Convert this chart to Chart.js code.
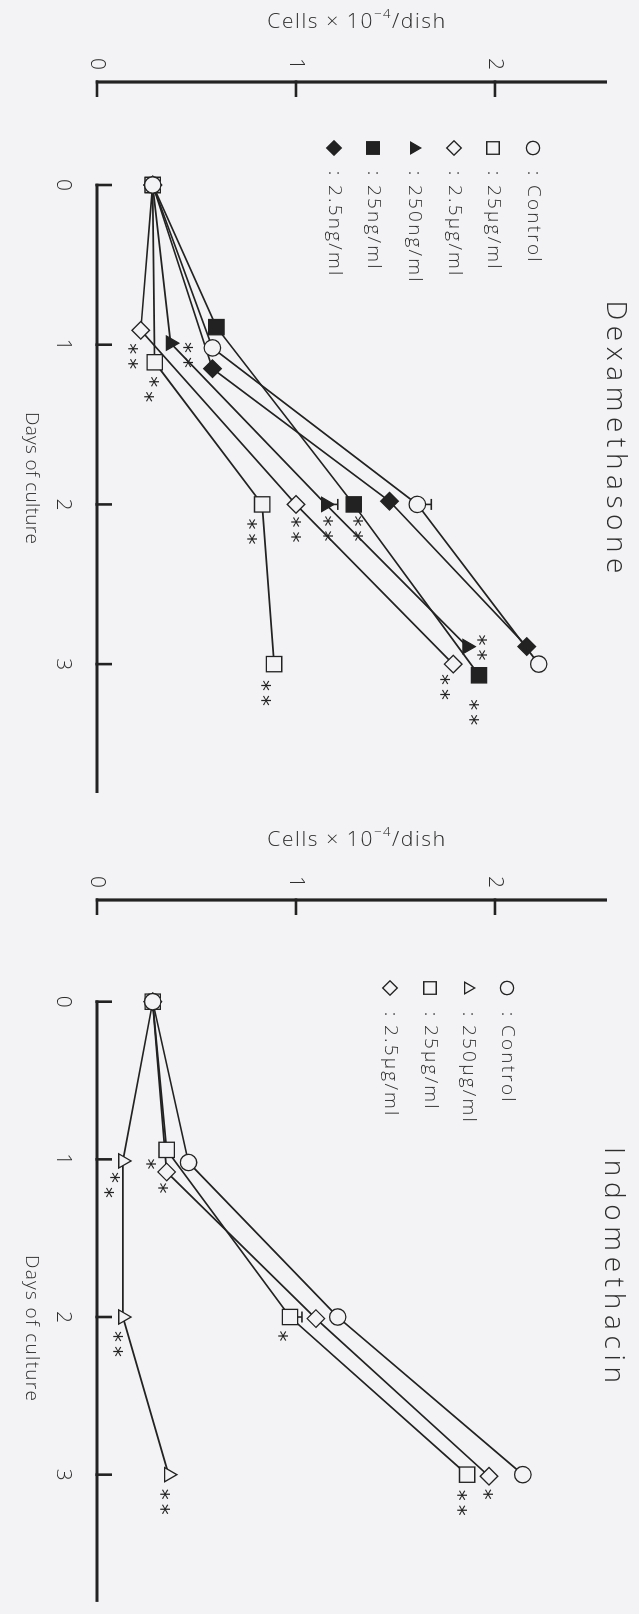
<!DOCTYPE html>
<html>
<head>
<meta charset="utf-8">
<script src="https://cdn.jsdelivr.net/npm/chart.js@4.4.1/dist/chart.umd.min.js"></script>
<style>
html, body { margin: 0; padding: 0; background: #f3f2f4; overflow: hidden; width: 639px; height: 1614px; }
#fig { position: absolute; left: 0; top: 0; width: 1614px; height: 639px; transform-origin: 0 0; transform: translate(639px, 0) rotate(90deg); }
canvas { position: absolute; top: 0; }
</style>
</head>
<body>
<div id="fig">
  <canvas id="dex" width="818" height="639" style="left:0;width:818px;height:639px"></canvas>
  <canvas id="ind" width="796" height="639" style="left:818px;width:796px;height:639px"></canvas>
</div>
<script>
// ---------------- data ----------------
const dayTicks = [0, 1, 2, 3];
const dayTickLabels = ['0', '1', '2', '3'];
const cellTicks = [0, 1, 2];
const cellTickLabels = ['0', '1', '2'];

// Dexamethasone panel
const dexLabels = ['Control', '25µg/ml', '2.5µg/ml', '250ng/ml', '25ng/ml', '2.5ng/ml'];
const dexControlDays = [0, 1.02, 2.00, 3.00];
const dexControl     = [0.28, 0.58, 1.61, 2.22];
const dexControlErr  = [0, 0, 0.07, 0];
const dex25ugDays    = [0, 1.11, 2.00, 3.00];
const dex25ug        = [0.28, 0.29, 0.83, 0.89];
const dex25ugSig     = ['', '**', '**', '**'];
const dex2p5ugDays   = [0, 0.91, 2.00, 3.00];
const dex2p5ug       = [0.28, 0.22, 1.00, 1.79];
const dex2p5ugSig    = ['', '**', '**', '**'];
const dex250ngDays   = [0, 0.99, 2.00, 2.89];
const dex250ng       = [0.28, 0.37, 1.15, 1.86];
const dex250ngErr    = [0, 0, 0.06, 0];
const dex250ngSig    = ['', '**', '**', '**'];
const dex25ngDays    = [0, 0.89, 2.00, 3.07];
const dex25ng        = [0.28, 0.60, 1.29, 1.92];
const dex25ngSig     = ['', '', '**', '**'];
const dex2p5ngDays   = [0, 1.15, 1.98, 2.89];
const dex2p5ng       = [0.28, 0.58, 1.47, 2.16];

// Indomethacin panel
const indLabels = ['Control', '250µg/ml', '25µg/ml', '2.5µg/ml'];
const indControlDays = [0, 1.02, 2.00, 3.00];
const indControl     = [0.28, 0.46, 1.21, 2.14];
const ind250ugDays   = [0, 1.01, 2.00, 3.00];
const ind250ug       = [0.28, 0.13, 0.13, 0.36];
const ind250ugSig    = ['', '**', '**', '**'];
const ind25ugDays    = [0, 0.94, 2.00, 3.00];
const ind25ug        = [0.28, 0.35, 0.97, 1.86];
const ind25ugErr     = [0, 0, 0.06, 0];
const ind25ugSig     = ['', '*', '*', '**'];
const ind2p5ugDays   = [0, 1.08, 2.01, 3.01];
const ind2p5ug       = [0.28, 0.35, 1.10, 1.97];
const ind2p5ugSig    = ['', '*', '', '*'];

// ---------------- styles ----------------
const INK = '#222222';
const BG = '#f3f2f4';
const TEXT = '#2f2f2f';
const FONT = '"Open Sans", "Noto Sans", "DejaVu Sans", sans-serif';
const RADIUS = { circle: 8.2, rect: 10.8, rectRot: 8.8, triangle: 8.2 };

const dexSeries = [
  { label: dexLabels[0], days: dexControlDays, cells: dexControl, err: dexControlErr, sig: null, shape: 'circle', filled: false },
  { label: dexLabels[1], days: dex25ugDays, cells: dex25ug, err: null, sig: dex25ugSig, shape: 'rect', filled: false },
  { label: dexLabels[2], days: dex2p5ugDays, cells: dex2p5ug, err: null, sig: dex2p5ugSig, shape: 'rectRot', filled: false },
  { label: dexLabels[3], days: dex250ngDays, cells: dex250ng, err: dex250ngErr, sig: dex250ngSig, shape: 'triangle', filled: true },
  { label: dexLabels[4], days: dex25ngDays, cells: dex25ng, err: null, sig: dex25ngSig, shape: 'rect', filled: true },
  { label: dexLabels[5], days: dex2p5ngDays, cells: dex2p5ng, err: null, sig: null, shape: 'rectRot', filled: true }
];
const indSeries = [
  { label: indLabels[0], days: indControlDays, cells: indControl, err: null, sig: null, shape: 'circle', filled: false },
  { label: indLabels[1], days: ind250ugDays, cells: ind250ug, err: null, sig: ind250ugSig, shape: 'triangle', filled: false },
  { label: indLabels[2], days: ind25ugDays, cells: ind25ug, err: ind25ugErr, sig: ind25ugSig, shape: 'rect', filled: false },
  { label: indLabels[3], days: ind2p5ugDays, cells: ind2p5ug, err: null, sig: ind2p5ugSig, shape: 'rectRot', filled: false }
];

// layout (unrotated frame: u = along days, v = along cells)
const dexLayout = {
  width: 818, title: 'Dexamethasone', titleU: 437, titleV: 24, titleW: 273,
  daysTitleU: 478, daysTitleW: 132,
  legendU: 148, legendRows: [106, 146, 185, 225, 266, 305], colonDu: 25, labelDu: 37,
  sigOffsets: {
    '1-1': [27, 6], '1-2': [27, 10], '1-3': [29, 8],
    '2-1': [26, 8], '2-2': [25, 0], '2-3': [23, 8],
    '3-1': [12, -17], '3-2': [24, -2], '3-3': [1, -15],
    '4-2': [24, -4], '4-3': [37, 5]
  }
};
const indLayout = {
  width: 796, title: 'Indomethacin', titleU: 447, titleV: 26, titleW: 236,
  daysTitleU: 510, daysTitleW: 146,
  legendU: 170, legendRows: [132, 171, 209, 249], colonDu: 26, labelDu: 37,
  sigOffsets: {
    '1-1': [24, 14], '1-2': [27, 5], '1-3': [27, 4],
    '2-1': [14, 16], '2-2': [19, 7], '2-3': [28, 5],
    '3-1': [16, 4], '3-3': [18, 1]
  }
};

// ---------------- helpers ----------------
function charWidths(ctx, text) { return [...text].map(ch => ctx.measureText(ch).width); }
function drawSpaced(ctx, text, x, y, spacing, align) {
  const chars = [...text];
  const w = charWidths(ctx, text);
  const total = w.reduce((a, b) => a + b, 0) + spacing * (chars.length - 1);
  let cx = align === 'center' ? x - total / 2 : (align === 'right' ? x - total : x);
  ctx.textAlign = 'left';
  chars.forEach((ch, i) => { ctx.fillText(ch, cx, y); cx += w[i] + spacing; });
  return total;
}
function spacingFor(ctx, text, target) {
  const w = charWidths(ctx, text).reduce((a, b) => a + b, 0);
  return Math.max(0, (target - w) / ([...text].length - 1));
}
function drawShape(ctx, shape, x, y, r, filled, lw) {
  ctx.save();
  ctx.beginPath();
  if (shape === 'circle') {
    ctx.arc(x, y, r, 0, Math.PI * 2);
  } else if (shape === 'rect') {
    const s = Math.SQRT1_2 * r;
    ctx.rect(x - s, y - s, 2 * s, 2 * s);
  } else if (shape === 'rectRot') {
    ctx.moveTo(x, y - r); ctx.lineTo(x + r, y); ctx.lineTo(x, y + r); ctx.lineTo(x - r, y); ctx.closePath();
  } else if (shape === 'triangle') {
    for (let k = 0; k < 3; k++) {
      const a = k * 2 * Math.PI / 3;
      const px = x + Math.sin(a) * r, py = y - Math.cos(a) * r;
      if (k === 0) ctx.moveTo(px, py); else ctx.lineTo(px, py);
    }
    ctx.closePath();
  }
  ctx.fillStyle = filled ? INK : BG;
  ctx.fill();
  ctx.lineWidth = lw;
  ctx.strokeStyle = INK;
  ctx.stroke();
  ctx.restore();
}
function drawStar(ctx, x, y) {
  const m = ctx.measureText('*');
  ctx.textAlign = 'center';
  ctx.textBaseline = 'alphabetic';
  ctx.fillText('*', x, y + (m.actualBoundingBoxAscent - m.actualBoundingBoxDescent) / 2);
}

function figurePlugin(layout, series) {
  return {
    id: 'figure',
    beforeDatasetsDraw(chart) {
      const { ctx, chartArea: ca, scales: { x, y } } = chart;
      const y0 = y.getPixelForValue(0);
      ctx.save();
      ctx.strokeStyle = INK;
      ctx.lineCap = 'butt';
      // cells axis (left edge of the plot)
      ctx.lineWidth = 3.2;
      ctx.beginPath(); ctx.moveTo(ca.left, y0 + 1.3); ctx.lineTo(ca.left, ca.top); ctx.stroke();
      ctx.lineWidth = 2.6;
      cellTicks.forEach(c => {
        const p = y.getPixelForValue(c);
        ctx.beginPath(); ctx.moveTo(ca.left - 1.6, p); ctx.lineTo(ca.left + 15, p); ctx.stroke();
      });
      // days axis
      const xd0 = x.getPixelForValue(dayTicks[0]);
      ctx.lineWidth = 3.2;
      ctx.beginPath(); ctx.moveTo(xd0 - 1.3, y0); ctx.lineTo(ca.right, y0); ctx.stroke();
      ctx.lineWidth = 2.6;
      dayTicks.forEach(d => {
        const p = x.getPixelForValue(d);
        ctx.beginPath(); ctx.moveTo(p, y0 + 1.6); ctx.lineTo(p, y0 - 15); ctx.stroke();
      });
      // error bars
      ctx.lineWidth = 1.6;
      series.forEach(s => {
        if (!s.err) return;
        s.err.forEach((e, i) => {
          if (!e) return;
          const px = x.getPixelForValue(s.days[i]);
          const p1 = y.getPixelForValue(s.cells[i]);
          const p2 = y.getPixelForValue(s.cells[i] + e);
          ctx.beginPath(); ctx.moveTo(px, p1); ctx.lineTo(px, p2); ctx.stroke();
          ctx.beginPath(); ctx.moveTo(px - 5.5, p2); ctx.lineTo(px + 5.5, p2); ctx.stroke();
        });
      });
      ctx.restore();
    },
    afterDraw(chart) {
      const { ctx, chartArea: ca, scales: { x, y } } = chart;
      const y0 = y.getPixelForValue(0);
      ctx.save();
      ctx.fillStyle = TEXT;
      ctx.textBaseline = 'middle';

      // tick labels
      ctx.font = `300 21px ${FONT}`;
      ctx.textAlign = 'center';
      cellTicks.forEach((c, i) => ctx.fillText(cellTickLabels[i], ca.left - 18, y.getPixelForValue(c)));
      dayTicks.forEach((d, i) => ctx.fillText(dayTickLabels[i], x.getPixelForValue(d), y0 + 34));

      // cells axis title (reads upward)
      ctx.save();
      ctx.translate(ca.left - 60, 282);
      ctx.rotate(-Math.PI / 2);
      const sp = 1.6;
      const parts = [['Cells × 10', `300 21px ${FONT}`, 0], ['−4', `300 13px ${FONT}`, -8], ['/dish', `300 21px ${FONT}`, 0]];
      let total = 0;
      parts.forEach(p => { ctx.font = p[1]; total += charWidths(ctx, p[0]).reduce((a, b) => a + b, 0) + sp * ([...p[0]].length); });
      let cx = -total / 2;
      ctx.textBaseline = 'middle';
      parts.forEach(p => { ctx.font = p[1]; cx += drawSpaced(ctx, p[0], cx, p[2], sp, 'left') + sp; });
      ctx.restore();

      // days axis title
      ctx.font = `300 19px ${FONT}`;
      ctx.textBaseline = 'middle';
      const dt = 'Days of culture';
      drawSpaced(ctx, dt, layout.daysTitleU, y0 + 66, spacingFor(ctx, dt, layout.daysTitleW), 'center');

      // panel title
      ctx.font = `300 28px ${FONT}`;
      drawSpaced(ctx, layout.title, layout.titleU, layout.titleV, spacingFor(ctx, layout.title, layout.titleW), 'center');

      // legend
      series.forEach((s, i) => {
        const v = layout.legendRows[i];
        drawShape(ctx, s.shape, layout.legendU, v, RADIUS[s.shape] * 0.82, s.filled, 1.3);
        ctx.fillStyle = TEXT;
        ctx.font = `300 19px ${FONT}`;
        ctx.textBaseline = 'middle';
        drawSpaced(ctx, ':', layout.legendU + layout.colonDu, v, 0, 'center');
        drawSpaced(ctx, s.label, layout.legendU + layout.labelDu, v, 2.2, 'left');
      });

      // significance marks
      ctx.font = `22px "DejaVu Sans", sans-serif`;
      ctx.fillStyle = '#222222';
      series.forEach((s, si) => {
        if (!s.sig) return;
        s.sig.forEach((mark, pi) => {
          if (!mark) return;
          const off = layout.sigOffsets[si + '-' + pi] || [24, 0];
          const pu = x.getPixelForValue(s.days[pi]) + off[0];
          const pv = y.getPixelForValue(s.cells[pi]) + off[1];
          const n = mark.length;
          for (let k = 0; k < n; k++) drawStar(ctx, pu + (k - (n - 1) / 2) * 15, pv);
        });
      });
      ctx.restore();
    }
  };
}

function makeChart(id, layout, series) {
  const datasets = series.map(s => ({
    label: s.label,
    data: s.days.map((d, i) => ({ x: d, y: s.cells[i] })),
    showLine: true,
    borderColor: INK,
    borderWidth: 1.7,
    tension: 0,
    pointStyle: s.shape,
    pointRadius: RADIUS[s.shape],
    pointBackgroundColor: s.filled ? INK : BG,
    pointBorderColor: INK,
    pointBorderWidth: 1.3,
    clip: false
  }));
  return new Chart(document.getElementById(id), {
    type: 'scatter',
    data: { datasets },
    options: {
      responsive: false,
      animation: false,
      devicePixelRatio: 1,
      events: [],
      layout: { padding: { left: 82, top: 32, right: layout.width - 793, bottom: 97 } },
      scales: {
        x: { type: 'linear', min: -0.645, max: 3.807, display: false },
        y: { type: 'linear', min: 0, max: 2.563, display: false }
      },
      plugins: { legend: { display: false }, tooltip: { enabled: false }, title: { display: false } }
    },
    plugins: [figurePlugin(layout, series)]
  });
}

makeChart('dex', dexLayout, dexSeries);
makeChart('ind', indLayout, indSeries);
</script>
</body>
</html>
